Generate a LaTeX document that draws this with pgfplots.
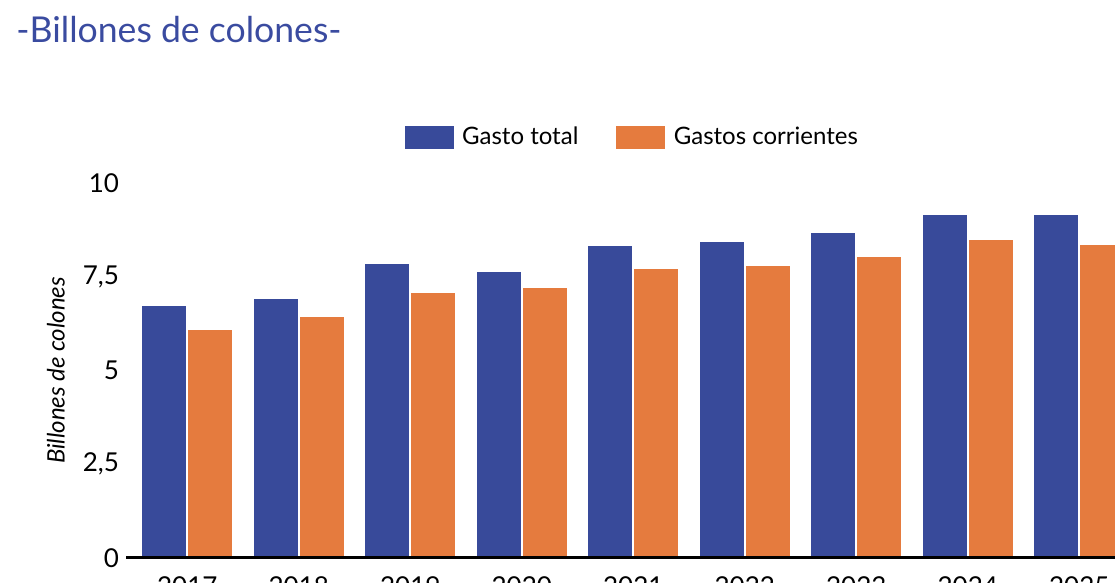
\documentclass[border=0pt]{standalone}
\usepackage{pgfplots}
\pgfplotsset{compat=1.18}
\usepackage{fontspec}
\setmainfont{Lato}
\definecolor{cblue}{RGB}{56,74,154}
\definecolor{corange}{RGB}{229,123,62}
\definecolor{ctitle}{RGB}{58,75,160}
\begin{document}
\begin{tikzpicture}
\node[anchor=base west, text=ctitle, font=\fontsize{17.8}{21}\selectfont, inner sep=0pt] at (8pt,270.2pt) {-Billones de colones-};
\begin{axis}[
 at={(63pt,12.5pt)}, anchor=south west,
 scale only axis, width=507.3pt, height=187.5pt,
 xmin=-0.55, xmax=8.55, ymin=0, ymax=10,
 axis on top,
 axis x line=bottom, axis y line=left,
 x axis line style={line width=1.5pt,-},
 y axis line style={draw=none},
 major tick length=0pt,
 xtick={0,1,2,3,4,5,6,7,8},
 xticklabels={2017,2018,2019,2020,2021,2022,2023,2024,2025},
 ytick={0,2.5,5,7.5,10},
 /pgf/number format/use comma,
 /pgf/number format/assume math mode=true,
 tick label style={font=\fontsize{13}{15}\selectfont},
 x tick label style={yshift=-6pt},
 every axis y label/.style={at={(rel axis cs:0,0.5)}, xshift=-35pt, rotate=90, anchor=center, font=\fontsize{12}{14}\selectfont\itshape},
 ylabel={Billones de colones},
 legend columns=2,
 legend style={draw=none, at={(0.5,1)}, anchor=center, yshift=22.75pt, font=\fontsize{12}{14}\selectfont,
   /tikz/every even column/.append style={column sep=17pt}},
 legend image code/.code={\fill[#1, draw=none] (0pt,-5.75pt) rectangle (24.5pt,5.75pt); \path (26.5pt,0pt);},
]
\addplot[ybar, fill=cblue, draw=white, line width=0.5pt, bar width=0.404, bar shift=-0.206] coordinates {
(0,6.72) (1,6.93) (2,7.84) (3,7.63) (4,8.32) (5,8.43) (6,8.69) (7,9.17) (8,9.17)};
\addlegendentry{Gasto total}
\addplot[ybar, fill=corange, draw=white, line width=0.5pt, bar width=0.404, bar shift=0.206] coordinates {
(0,6.08) (1,6.45) (2,7.09) (3,7.20) (4,7.73) (5,7.79) (6,8.05) (7,8.48) (8,8.37)};
\addlegendentry{Gastos corrientes}
\end{axis}
\pgfresetboundingbox
\useasboundingbox (0,0) rectangle (557.5pt,291.5pt);
\end{tikzpicture}
\end{document}
